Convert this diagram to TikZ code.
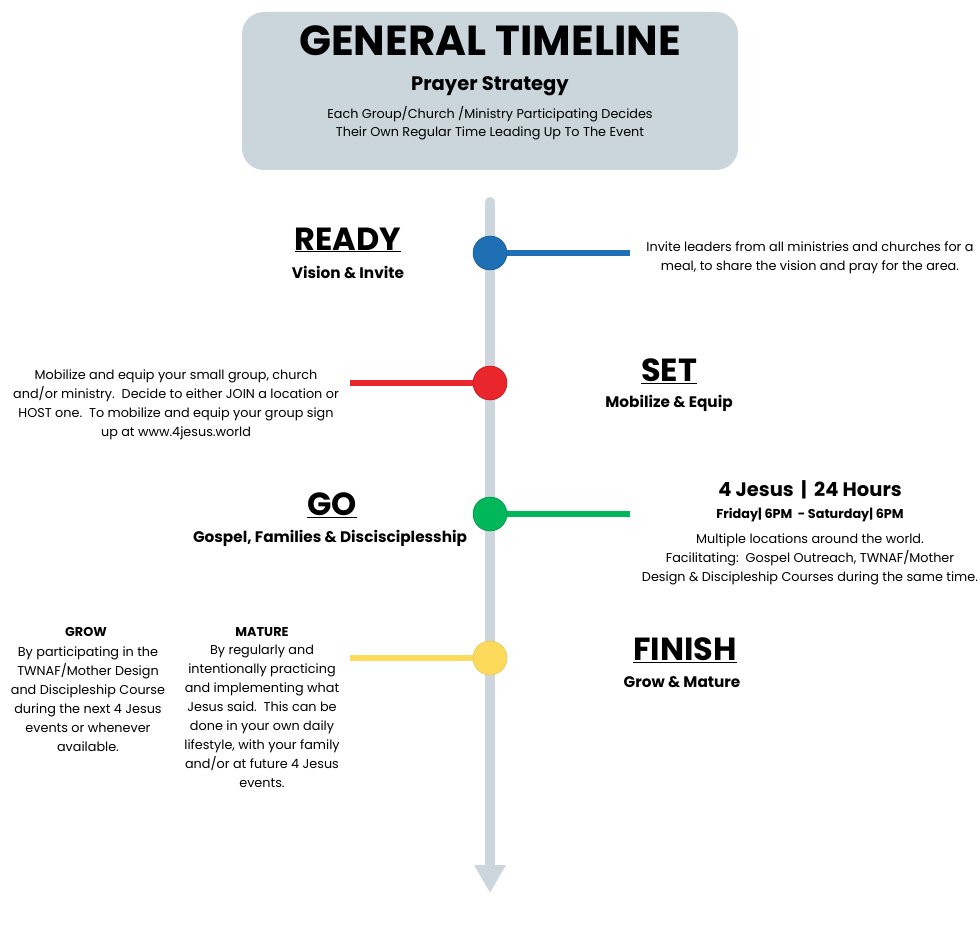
\documentclass[tikz,border=0pt]{standalone}
\usepackage{fontspec}
\setmainfont{Poppins}
\usetikzlibrary{arrows.meta}
\definecolor{hdr}{HTML}{CBD5DC}
\definecolor{tl}{HTML}{CDD6DD}
\definecolor{cb}{HTML}{1F6FB5}
\definecolor{cr}{HTML}{E8262B}
\definecolor{cg}{HTML}{00B85A}
\definecolor{cy}{HTML}{FDDA5B}
\tikzset{
 big/.style={font=\fontsize{32}{34}\selectfont\bfseries, inner sep=0pt},
 sub/.style={font=\fontsize{15.3}{17}\selectfont\bfseries, inner sep=0pt},
 body/.style={font=\fontsize{12.8}{19}\selectfont, align=center, inner sep=0pt},
 lab/.style={font=\fontsize{12.8}{15}\selectfont\bfseries, inner sep=0pt},
 bar/.style={line width=6pt},
 dot/.style={circle, minimum size=34pt, inner sep=0pt},
}
\begin{document}
\begin{tikzpicture}[x=1pt,y=-1pt]
\useasboundingbox (0,0) rectangle (980,931);
\node[fill=hdr, rounded corners=22pt, minimum width=496pt, minimum height=158pt] (hb) at (490,91) {};
\node[font=\fontsize{42}{44}\selectfont\bfseries, inner sep=0pt] (t) at (490,41) {GENERAL TIMELINE};
\node[font=\fontsize{19.5}{21}\selectfont\bfseries, inner sep=0pt] (ps) at (490,86) {Prayer Strategy};
\node[body, font=\fontsize{12.8}{18}\selectfont] (pd) at (490,123) {Each Group/Church /Ministry Participating Decides\\Their Own Regular Time Leading Up To The Event};
\coordinate (top) at (490,202);
\coordinate (bot) at (490,893);
\draw[tl, line width=10pt, line cap=round] (top) -- (490,866);
\draw[tl, line width=10pt, -{Triangle[width=30pt,length=28pt]}] (490,860) -- (bot);
\node[dot, fill=cb] (b) at (490,253) {};
\node[dot, fill=cr] (r) at (490,383) {};
\node[dot, fill=cg] (g) at (490,514) {};
\node[dot, fill=cy] (y) at (490,658) {};
\coordinate (be) at (630,253);
\coordinate (re) at (350,383);
\coordinate (ge) at (630,514);
\coordinate (ye) at (350,658);
\draw[bar, cb] (b) -- (be);
\draw[bar, cr] (re) -- (r);
\draw[bar, cg] (g) -- (ge);
\draw[bar, cy] (ye) -- (y);
\node[dot, fill=cb, draw=cb!80!black, line width=0.5pt] at (b) {};
\node[dot, fill=cr, draw=cr!80!black, line width=0.5pt] at (r) {};
\node[dot, fill=cg, draw=cg!80!black, line width=0.5pt] at (g) {};
\node[dot, fill=cy, draw=cy!90!black, line width=0.5pt] at (y) {};
% READY
\node[big] (ready) at (348,240) {\underline{READY}};
\node[sub] (vi) at (348,272) {Vision \& Invite};
\node[body] (rt) at (810,258) {Invite leaders from all ministries and churches for a\\meal, to share the vision and pray for the area.};
% SET
\node[big] (set) at (669,371) {\underline{SET}};
\node[sub] (me) at (669,403) {Mobilize \& Equip};
\node[body] (st) at (176,405) {Mobilize and equip your small group, church\\and/or ministry.\ \ Decide to either JOIN a location or\\HOST one.\ \ To mobilize and equip your group sign\\up at www.4jesus.world};
% GO
\node[big] (go) at (332,505) {\underline{GO}};
\node[sub] (gf) at (330,538) {Gospel, Families \& Discisciplesship};
\node[font=\fontsize{19.5}{21}\selectfont\bfseries, inner sep=0pt] (jh) at (810,490) {4 Jesus \,|\, 24 Hours};
\node[lab] (fs) at (810,515) {Friday| 6PM\ \ - Saturday| 6PM};
\node[body] (gt) at (810,559) {Multiple locations around the world.\\Facilitating:\ \ Gospel Outreach, TWNAF/Mother\\Design \& Discipleship Courses during the same time.};
% FINISH
\node[big] (fin) at (685,650) {\underline{FINISH}};
\node[sub] (gm) at (682,682) {Grow \& Mature};
\node[lab] (grow) at (86,632) {GROW};
\node[body] (gw) at (88,699) {By participating in the\\TWNAF/Mother Design\\and Discipleship Course\\during the next 4 Jesus\\events or whenever\\available.};
\node[lab] (mat) at (262,632) {MATURE};
\node[body] (mt) at (262,716) {By regularly and\\intentionally practicing\\and implementing what\\Jesus said.\ \ This can be\\done in your own daily\\lifestyle, with your family\\and/or at future 4 Jesus\\events.};
\end{tikzpicture}
\end{document}
